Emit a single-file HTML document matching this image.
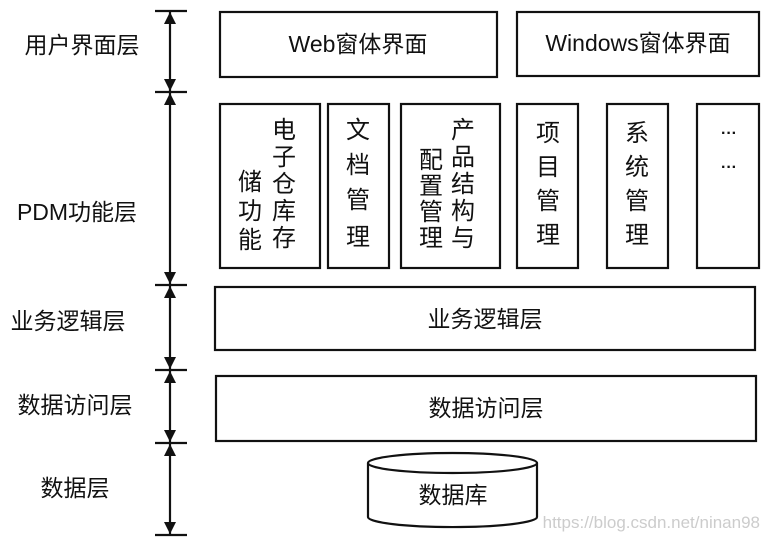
<!DOCTYPE html>
<html><head><meta charset="utf-8"><style>
html,body{margin:0;padding:0;background:#fff;}
svg{display:block;}
text{font-family:"Liberation Sans","Noto Sans CJK SC",sans-serif;fill:#111;}
</style></head><body>
<svg width="767" height="539" viewBox="0 0 767 539" xmlns="http://www.w3.org/2000/svg">
<defs>
<marker id="a" viewBox="0 0 10 10" refX="10" refY="5" markerWidth="12" markerHeight="12" orient="auto-start-reverse" markerUnits="userSpaceOnUse"><path d="M0,0 L10,5 L0,10 z" fill="#111"/></marker>
</defs>
<g stroke="#111" stroke-width="2.2" fill="none">
<line x1="155" y1="11" x2="187" y2="11"/>
<line x1="155" y1="92" x2="187" y2="92"/>
<line x1="155" y1="285" x2="187" y2="285"/>
<line x1="155" y1="370" x2="187" y2="370"/>
<line x1="155" y1="443" x2="187" y2="443"/>
<line x1="155" y1="535" x2="187" y2="535"/>
<line x1="170" y1="12" x2="170" y2="91" marker-start="url(#a)" marker-end="url(#a)"/>
<line x1="170" y1="93" x2="170" y2="284" marker-start="url(#a)" marker-end="url(#a)"/>
<line x1="170" y1="286" x2="170" y2="369" marker-start="url(#a)" marker-end="url(#a)"/>
<line x1="170" y1="371" x2="170" y2="442" marker-start="url(#a)" marker-end="url(#a)"/>
<line x1="170" y1="444" x2="170" y2="534" marker-start="url(#a)" marker-end="url(#a)"/>
<rect x="220" y="12" width="277" height="65"/>
<rect x="517" y="12" width="242" height="64"/>
<rect x="220" y="104" width="100" height="164"/>
<rect x="328" y="104" width="61" height="164"/>
<rect x="401" y="104" width="99" height="164"/>
<rect x="517" y="104" width="61" height="164"/>
<rect x="607" y="104" width="61" height="164"/>
<rect x="697" y="104" width="62" height="164"/>
<rect x="215" y="287" width="540" height="63"/>
<rect x="216" y="376" width="540" height="65"/>
<path d="M368,463 L368,517 A84,10 0 0 0 537,517 L537,463" fill="#fff"/>
<ellipse cx="452.5" cy="463" rx="84.5" ry="10" fill="#fff"/>
</g>
<g font-size="23" text-anchor="middle">
<text x="82" y="53">用户界面层</text>
<text x="77" y="220">PDM功能层</text>
<text x="68" y="329">业务逻辑层</text>
<text x="75" y="413">数据访问层</text>
<text x="75" y="496">数据层</text>
<text x="358" y="52">Web窗体界面</text>
<text x="638" y="51">Windows窗体界面</text>
<text x="485" y="327">业务逻辑层</text>
<text x="486" y="416">数据访问层</text>
<text x="453" y="503">数据库</text>
</g>
<g font-size="24" text-anchor="middle">
<text x="284" y="138">电</text><text x="284" y="165">子</text><text x="284" y="192">仓</text><text x="284" y="219">库</text><text x="284" y="246">存</text>
<text x="250" y="190">储</text><text x="250" y="219">功</text><text x="250" y="248">能</text>
<text x="358" y="138">文</text><text x="358" y="173">档</text><text x="358" y="208">管</text><text x="358" y="245">理</text>
<text x="463" y="138">产</text><text x="463" y="165">品</text><text x="463" y="192">结</text><text x="463" y="219">构</text><text x="463" y="246">与</text>
<text x="431" y="168">配</text><text x="431" y="194">置</text><text x="431" y="220">管</text><text x="431" y="246">理</text>
<text x="548" y="141">项</text><text x="548" y="175">目</text><text x="548" y="209">管</text><text x="548" y="243">理</text>
<text x="637" y="141">系</text><text x="637" y="175">统</text><text x="637" y="209">管</text><text x="637" y="243">理</text>
</g>
<g font-size="16" font-weight="bold" text-anchor="middle">
<text x="729" y="138">···</text><text x="729" y="172">···</text>
</g>
<text x="760" y="528" font-size="17" text-anchor="end" style="fill:#ccc">https://blog.csdn.net/ninan98</text>
</svg>
</body></html>
